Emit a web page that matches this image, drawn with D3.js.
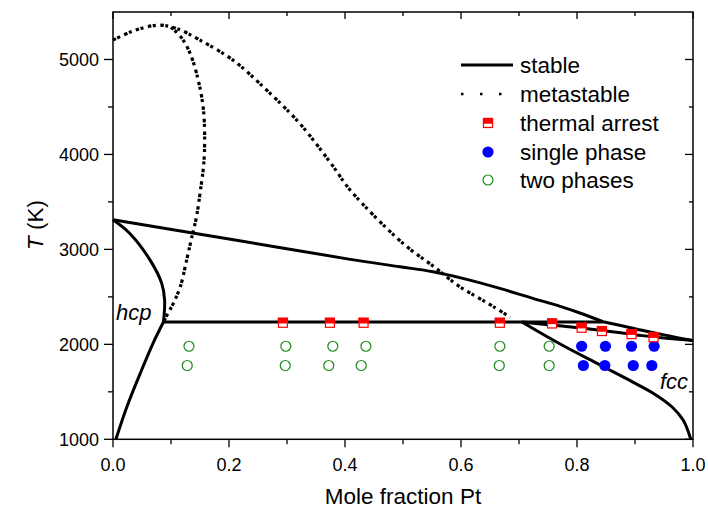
<!DOCTYPE html>
<html><head><meta charset="utf-8">
<script src="https://cdn.jsdelivr.net/npm/d3@7"></script>
<style>body{margin:0;background:#fff}svg{display:block}text{font-family:"Liberation Sans",Arial,sans-serif}</style>
</head><body><svg id="c" width="708" height="509"></svg>
<script>
// ---- data ----
const xTicks = [0, 0.2, 0.4, 0.6, 0.8, 1.0];
const yTicks = [1000, 2000, 3000, 4000, 5000];
const liquidusHcp = [[0,3312],[0.2,3110],[0.409,2895],[0.495,2817],[0.552,2764],[0.61,2684],[0.667,2589],[0.724,2484],[0.771,2400],[0.805,2330],[0.845,2238]];
const liquidusFcc = [[0.845,2238],[0.9,2165],[0.95,2100],[1.0,2041]];
const hcpUpper = [[0,3312],[0.029,3168],[0.064,2887],[0.084,2642],[0.089,2466],[0.087,2235]];
const hcpLower = [[0.087,2235],[0.069,2011],[0.047,1695],[0.024,1343],[0.005,1000]];
const peritectic = [[0.087,2235],[0.845,2235]];
const fccSolidus = [[0.705,2235],[0.76,2200],[0.81,2170],[0.85,2140],[0.9,2102],[0.94,2072],[1.0,2041]];
const fccSolvus = [[0.705,2235],[0.771,2003],[0.84,1782],[0.891,1620],[0.934,1475],[0.964,1340],[0.983,1203],[0.995,1024],[0.996,1000]];
const metaLiquidus = [[0,5203],[0.035,5301],[0.078,5361],[0.11,5326],[0.15,5203],[0.207,4993],[0.265,4677],[0.322,4326],[0.38,3870],[0.409,3624],[0.5,3063],[0.552,2824],[0.598,2606],[0.627,2501],[0.656,2396],[0.685,2285]];
const metaSolidus = [[0.1,5340],[0.118,5230],[0.133,5063],[0.147,4782],[0.156,4466],[0.158,4116],[0.156,3869],[0.15,3589],[0.144,3343],[0.136,3133],[0.127,2887],[0.116,2606],[0.104,2432],[0.093,2308],[0.088,2245]];
const thermalX = [0.293,0.374,0.432,0.667,0.757,0.808,0.843,0.894,0.932];
const thermalT = [2227,2227,2227,2227,2220,2175,2140,2107,2075];
const singleX = [0.808,0.849,0.894,0.933,0.811,0.848,0.897,0.929];
const singleT = [1980,1980,1980,1980,1777,1777,1777,1777];
const twoX = [0.131,0.298,0.379,0.436,0.667,0.752,0.128,0.297,0.372,0.428,0.666,0.752];
const twoT = [1980,1980,1980,1980,1980,1980,1777,1777,1777,1777,1777,1777];
const legendLabels = ["stable","metastable","thermal arrest","single phase","two phases"];

// ---- layout ----
const L=113, R=693, T=12, B=439.3;
const svg = d3.select("#c");
const x = d3.scaleLinear().domain([0,1]).range([L,R]);
const y = d3.scaleLinear().domain([1000,5500]).range([B,T]);
const line = d3.line().x(d=>x(d[0])).y(d=>y(d[1])).curve(d3.curveCatmullRom.alpha(0.5));
const straight = d3.line().x(d=>x(d[0])).y(d=>y(d[1]));

const plot = svg.append("g");
[liquidusHcp,liquidusFcc,hcpUpper,hcpLower,fccSolidus,fccSolvus].forEach(p=>{
  plot.append("path").attr("d",line(p)).attr("fill","none").attr("stroke","#000").attr("stroke-width",3);
});
plot.append("path").attr("d",straight(peritectic)).attr("fill","none").attr("stroke","#000").attr("stroke-width",3);
[metaLiquidus,metaSolidus].forEach(p=>{
  plot.append("path").attr("d",line(p)).attr("fill","none").attr("stroke","#000").attr("stroke-width",3.2)
    .attr("stroke-dasharray","3.5,1.5,3,4.5");
});

// markers
function thermal(g,cx,cy){
  g.append("rect").attr("x",cx-4.5).attr("y",cy-4.5).attr("width",9).attr("height",9).attr("fill","#fff").attr("stroke","#f00").attr("stroke-width",1.2);
  g.append("rect").attr("x",cx-5.1).attr("y",cy-5.1).attr("width",10.2).attr("height",5.8).attr("fill","#f00");
}
twoX.forEach((v,i)=>{
  plot.append("circle").attr("cx",x(v)).attr("cy",y(twoT[i])).attr("r",5).attr("fill","none").attr("stroke","#1a8a1a").attr("stroke-width",1.2);
});
singleX.forEach((v,i)=>{
  plot.append("circle").attr("cx",x(v)).attr("cy",y(singleT[i])).attr("r",5.6).attr("fill","#0000ff");
});
thermalX.forEach((v,i)=>thermal(plot,x(v),y(thermalT[i])));

// labels
plot.append("text").attr("x",116).attr("y",320).attr("font-size",22).attr("font-style","italic").text("hcp");
plot.append("text").attr("x",660).attr("y",389).attr("font-size",22).attr("font-style","italic").text("fcc");

// axes
const ax = svg.append("g").attr("stroke","#000");
ax.append("rect").attr("x",L).attr("y",T).attr("width",R-L).attr("height",B-T).attr("fill","none").attr("stroke-width",1.5);
d3.range(0,1.0001,0.1).forEach((v,i)=>{
  const major = i%2===0;
  ax.append("line").attr("x1",x(v)).attr("x2",x(v)).attr("y1",B).attr("y2",B+(major?8:5)).attr("stroke-width",1.3);
  ax.append("line").attr("x1",x(v)).attr("x2",x(v)).attr("y1",T).attr("y2",T+(major?7:4)).attr("stroke-width",1.3);
});
d3.range(1000,5001,500).forEach((v,i)=>{
  const major = i%2===0;
  ax.append("line").attr("y1",y(v)).attr("y2",y(v)).attr("x1",L).attr("x2",L-(major?9:5)).attr("stroke-width",1.3);
  ax.append("line").attr("y1",y(v)).attr("y2",y(v)).attr("x1",R).attr("x2",R-(major?8:4)).attr("stroke-width",1.3);
});
const tl = svg.append("g").attr("font-size",18).attr("fill","#000");
xTicks.forEach(v=>tl.append("text").attr("x",x(v)).attr("y",B+32).attr("text-anchor","middle").text(d3.format(".1f")(v)));
yTicks.forEach(v=>tl.append("text").attr("x",L-14).attr("y",y(v)+6.5).attr("text-anchor","end").text(v));

svg.append("text").attr("x",403).attr("y",504).attr("text-anchor","middle").attr("font-size",22.5).text("Mole fraction Pt");
const yl = svg.append("text").attr("transform","translate(43,225) rotate(-90)").attr("text-anchor","middle").attr("font-size",22.5);
yl.append("tspan").attr("font-style","italic").text("T");
yl.append("tspan").text(" (K)");

// legend
const lg = svg.append("g");
const rowY = [65,94,123,152,180];
lg.append("line").attr("x1",461).attr("x2",513).attr("y1",rowY[0]).attr("y2",rowY[0]).attr("stroke","#000").attr("stroke-width",3);
lg.append("line").attr("x1",461).attr("x2",503).attr("y1",rowY[1]).attr("y2",rowY[1]).attr("stroke","#000").attr("stroke-width",2.5).attr("stroke-dasharray","2.5,16.5");
thermal(lg,488,rowY[2]);
lg.append("circle").attr("cx",488).attr("cy",rowY[3]).attr("r",5.6).attr("fill","#0000ff");
lg.append("circle").attr("cx",488).attr("cy",rowY[4]).attr("r",5).attr("fill","none").attr("stroke","#1a8a1a").attr("stroke-width",1.2);
legendLabels.forEach((t,i)=>lg.append("text").attr("x",520).attr("y",rowY[i]+8).attr("font-size",22.5).text(t));
</script></body></html>
